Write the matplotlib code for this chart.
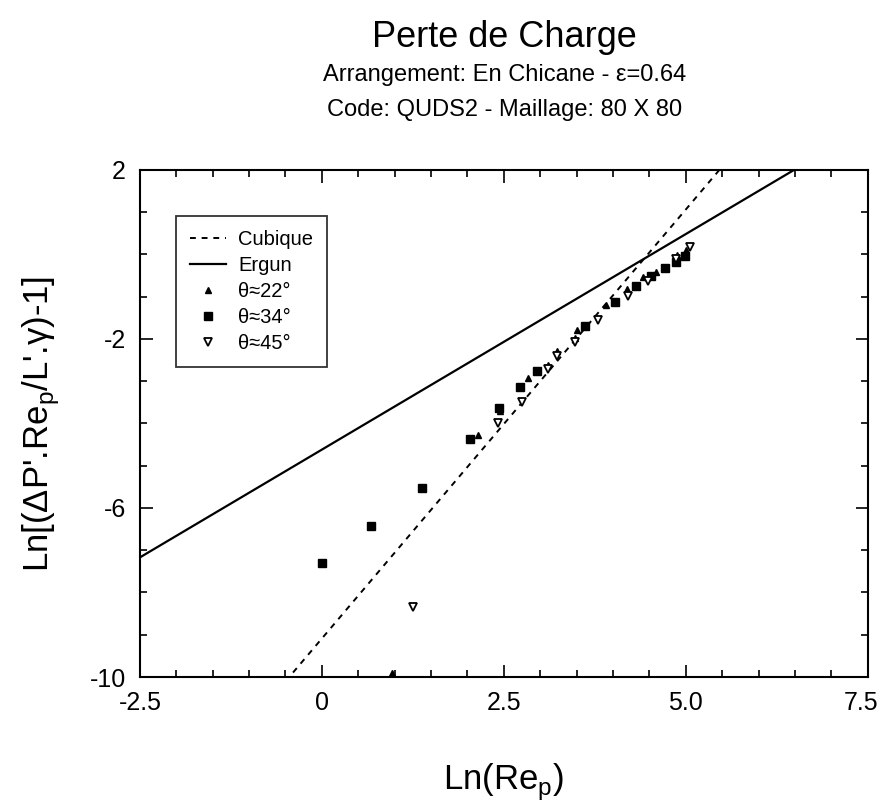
import numpy as np
import matplotlib
matplotlib.use("Agg")
import matplotlib.pyplot as plt
import matplotlib.transforms as mtransforms
from matplotlib.ticker import MultipleLocator

plt.rcParams['font.family'] = ['Liberation Sans', 'DejaVu Sans']
plt.rcParams['axes.unicode_minus'] = False
plt.rcParams['mathtext.fontset'] = 'custom'
plt.rcParams['mathtext.rm'] = 'Liberation Sans'

# donnees
x22 = [0.96, 2.15, 2.45, 2.83, 3.11, 3.23, 3.48, 3.51, 3.90, 4.19, 4.41, 4.59, 4.88, 5.01]
y22 = [-9.9, -4.27, -3.70, -2.93, -2.62, -2.28, -1.98, -1.79, -1.20, -0.82, -0.54, -0.41, -0.01, 0.11]

x34 = [0.0, 0.67, 1.37, 2.04, 2.43, 2.72, 2.95, 3.62, 4.03, 4.32, 4.52, 4.71, 4.86, 4.99]
y34 = [-7.31, -6.43, -5.52, -4.37, -3.64, -3.13, -2.75, -1.69, -1.12, -0.76, -0.51, -0.33, -0.17, -0.04]

x45 = [1.25, 2.42, 2.75, 3.11, 3.23, 3.48, 3.80, 4.21, 4.48, 4.87, 5.06]
y45 = [-8.34, -3.98, -3.50, -2.72, -2.40, -2.08, -1.55, -0.98, -0.62, -0.10, 0.17]

# droites: cubique et Ergun (pente, ordonnee)
cub_pente, cub_orig = 2.03, -9.09
erg_pente, erg_orig = 1.02, -4.62

fig = plt.figure(figsize=(8.8, 8.05), dpi=100)
ax = fig.add_axes([0.159, 0.159, 0.827, 0.630])

xl = np.array([-2.5, 7.5])
ax.plot(xl, cub_pente * xl + cub_orig, 'k', ls=(0, (3, 3)), lw=1.4, label='Cubique')
ax.plot(xl, erg_pente * xl + erg_orig, 'k', lw=1.6, label='Ergun')
ax.plot(x22, y22, 'k^', ms=4.5, ls='none', clip_on=False, label='θ≈22°')
ax.plot(x34, y34, 'ks', ms=5.5, ls='none', label='θ≈34°')
ax.plot(x45, y45, 'v', mfc='white', mec='k', mew=1.3, ms=5.5, ls='none', label='θ≈45°')

ax.set_xlim(-2.5, 7.5)
ax.set_ylim(-10, 2)
ax.set_xticks([-2.5, 0, 2.5, 5.0, 7.5])
ax.set_xticklabels(['-2.5', '0', '2.5', '5.0', '7.5'])
ax.set_yticks([2, -2, -6, -10])
ax.xaxis.set_minor_locator(MultipleLocator(0.5))
ax.yaxis.set_minor_locator(MultipleLocator(1))
ax.tick_params(which='both', direction='in', top=True, right=True, width=1.2)
ax.tick_params(which='major', length=9, labelsize=18, pad=10)
ax.tick_params(which='minor', length=5)
for s in ax.spines.values():
    s.set_linewidth(1.5)

# le dernier label touche le bord droit, on le decale un peu
lab = ax.get_xticklabels()[-1]
lab.set_transform(lab.get_transform() + mtransforms.ScaledTranslation(-7 / 100, 0, fig.dpi_scale_trans))

ax.set_xlabel(r'Ln(Re$_\mathregular{p}$)', fontsize=25, labelpad=34)
ax.set_ylabel(r"Ln[(ΔP'.Re$_\mathregular{p}$/L'.γ)-1]", fontsize=25, labelpad=20)

leg = ax.legend(loc='upper left', bbox_to_anchor=(0.049, 0.909), fontsize=14.5,
                frameon=True, fancybox=False, edgecolor='k', handlelength=1.8,
                handletextpad=0.6, borderpad=0.7, labelspacing=0.35, borderaxespad=0)
leg.get_frame().set_linewidth(1.3)

fig.text(0.573, 0.953, 'Perte de Charge', ha='center', va='center', fontsize=26)
fig.text(0.573, 0.907, 'Arrangement: En Chicane - ε=0.64', ha='center', va='center', fontsize=17)
fig.text(0.573, 0.863, 'Code: QUDS2 - Maillage: 80 X 80', ha='center', va='center', fontsize=17)

fig.savefig('out.png', dpi=100)
